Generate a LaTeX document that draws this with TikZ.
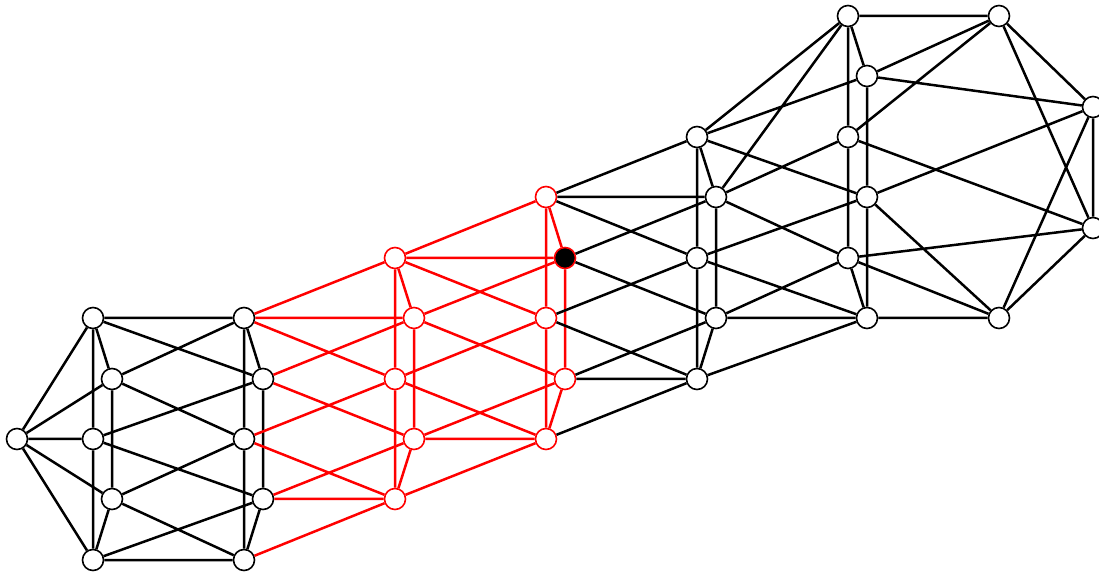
\documentclass[tikz,border=0pt]{standalone}
\usepackage{xcolor}
\usepackage{tikz}
\definecolor{hotred}{HTML}{FF0000}
\tikzset{
  vtx/.style={draw, circle, fill=white, line width=0.8pt, minimum size=10.5pt, inner sep=0pt},
  hotvtx/.style={vtx, draw=hotred},
  seedvtx/.style={vtx, draw=hotred, fill=black},
  wire/.style={line width=1.25pt, black},
  hotwire/.style={line width=1.25pt, hotred}
}
\begin{document}
\begin{tikzpicture}[x=0.5pt, y=-0.5pt]
  \useasboundingbox (0,0) rectangle (1099,577);

  % left block
  \node[vtx] (hub) at (17,439) {};
  \node[vtx] (a1) at (93,318) {};
  \node[vtx] (a2) at (112,379) {};
  \node[vtx] (a3) at (93,439) {};
  \node[vtx] (a4) at (112,499) {};
  \node[vtx] (a5) at (93,560) {};
  \node[vtx] (b1) at (244,318) {};
  \node[vtx] (b2) at (263,379) {};
  \node[vtx] (b3) at (244,439) {};
  \node[vtx] (b4) at (263,499) {};
  \node[vtx] (b5) at (244,560) {};

  % red block
  \node[hotvtx] (c1) at (395,258) {};
  \node[hotvtx] (c2) at (414,318) {};
  \node[hotvtx] (c3) at (395,379) {};
  \node[hotvtx] (c4) at (414,439) {};
  \node[hotvtx] (c5) at (395,499) {};
  \node[hotvtx] (d1) at (546,197) {};
  \node[seedvtx] (d2) at (565,258) {};
  \node[hotvtx] (d3) at (546,318) {};
  \node[hotvtx] (d4) at (565,379) {};
  \node[hotvtx] (d5) at (546,439) {};

  % right block
  \node[vtx] (e1) at (697,137) {};
  \node[vtx] (e2) at (716,197) {};
  \node[vtx] (e3) at (697,258) {};
  \node[vtx] (e4) at (716,318) {};
  \node[vtx] (e5) at (697,379) {};
  \node[vtx] (f1) at (848,16) {};
  \node[vtx] (f2) at (867,76) {};
  \node[vtx] (f3) at (848,137) {};
  \node[vtx] (f4) at (867,197) {};
  \node[vtx] (f5) at (848,258) {};
  \node[vtx] (f6) at (867,318) {};
  \node[vtx] (g1) at (999,16) {};
  \node[vtx] (g2) at (1093,107) {};
  \node[vtx] (g3) at (1093,228) {};
  \node[vtx] (g4) at (999,318) {};

  % hub and columns a, b
  \draw[wire] (hub) -- (a1) (hub) -- (a2) (hub) -- (a3) (hub) -- (a4) (hub) -- (a5);
  \draw[wire] (a1) -- (a2) (a1) -- (a3) (a3) -- (a5) (a2) -- (a4) (a4) -- (a5);
  \draw[wire] (b1) -- (b2) (b1) -- (b3) (b3) -- (b5) (b2) -- (b4) (b4) -- (b5);
  \draw[wire] (a1) -- (b1) (a1) -- (b2) (a2) -- (b1) (a2) -- (b3) (a3) -- (b2);
  \draw[wire] (a3) -- (b4) (a4) -- (b3) (a4) -- (b5) (a5) -- (b4) (a5) -- (b5);

  % b to c, c to d (red)
  \draw[hotwire] (b1) -- (c1) (b1) -- (c2) (b1) -- (c3) (b2) -- (c2) (b2) -- (c4);
  \draw[hotwire] (b3) -- (c3) (b3) -- (c5) (b4) -- (c4) (b4) -- (c5) (b5) -- (c5);
  \draw[hotwire] (c1) -- (c2) (c1) -- (c3) (c3) -- (c5) (c2) -- (c4) (c4) -- (c5);
  \draw[hotwire] (c1) -- (d1) (c1) -- (d2) (c1) -- (d3) (c2) -- (d2) (c2) -- (d4);
  \draw[hotwire] (c3) -- (d3) (c3) -- (d5) (c4) -- (d4) (c4) -- (d5) (c5) -- (d5);
  \draw[hotwire] (d1) -- (d2) (d1) -- (d3) (d3) -- (d5) (d2) -- (d4) (d4) -- (d5);

  % d to e, column e
  \draw[wire] (d1) -- (e1) (d1) -- (e2) (d1) -- (e3) (d2) -- (e2) (d2) -- (e4);
  \draw[wire] (d3) -- (e3) (d3) -- (e5) (d4) -- (e4) (d4) -- (e5) (d5) -- (e5);
  \draw[wire] (e1) -- (e2) (e1) -- (e3) (e3) -- (e5) (e2) -- (e4) (e4) -- (e5);

  % e to f, column f
  \draw[wire] (e1) -- (f1) (e1) -- (f2) (e1) -- (f4) (e2) -- (f1) (e2) -- (f3) (e2) -- (f5);
  \draw[wire] (e3) -- (f4) (e3) -- (f6) (e4) -- (f5) (e4) -- (f6) (e5) -- (f6);
  \draw[wire] (f1) -- (f2) (f1) -- (f3) (f3) -- (f5) (f2) -- (f4) (f4) -- (f6) (f5) -- (f6);

  % f to g, block g
  \draw[wire] (f1) -- (g1) (f2) -- (g1) (f3) -- (g1) (f2) -- (g2) (f4) -- (g2);
  \draw[wire] (f3) -- (g3) (f5) -- (g3) (f4) -- (g4) (f5) -- (g4) (f6) -- (g4);
  \draw[wire] (g1) -- (g2) (g1) -- (g3) (g2) -- (g3) (g2) -- (g4) (g3) -- (g4);
\end{tikzpicture}
\end{document}
